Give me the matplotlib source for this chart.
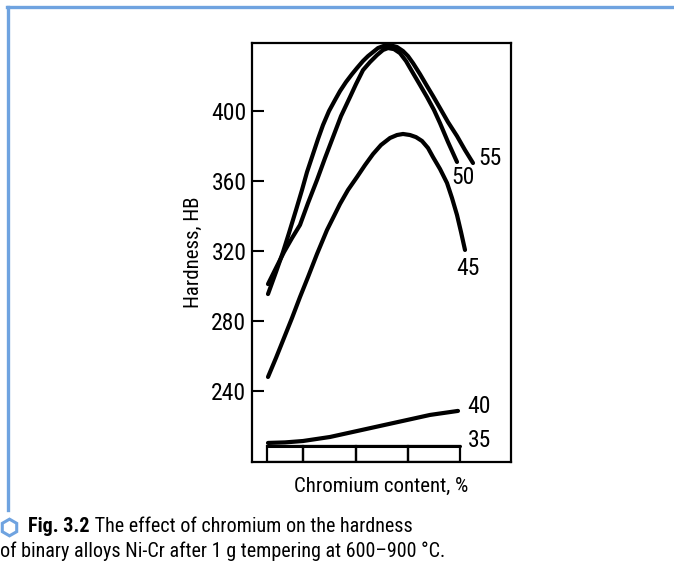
import matplotlib
matplotlib.use("Agg")
import matplotlib.pyplot as plt
from matplotlib import font_manager

installed = {f.name for f in font_manager.fontManager.ttflist}
face = next((n for n in ["Liberation Sans Narrow", "Roboto Condensed", "Open Sans Condensed", "Roboto"]
             if n in installed), "DejaVu Sans")
plt.rcParams["font.family"] = [face, "DejaVu Sans"]

# Hardness (HB) vs chromium content for Ni-Cr alloys, one curve per group label
x55 = [1.6, 2.4, 3.1, 3.7, 4.4, 5.0, 5.5, 6.1, 6.6, 7.1, 7.7, 8.3, 8.8, 9.4, 10.0, 10.5, 11.1,
       11.6, 12.1, 12.6, 13.1, 13.8, 14.5, 15.1, 15.6, 16.1, 16.8, 17.5, 18.1, 18.8, 19.6, 20.5,
       21.3, 22.1]
hb55 = [295.4, 308.0, 319.4, 330.3, 343.4, 354.9, 365.1, 375.4, 384.0, 392.0, 400.0, 406.3, 411.4,
        416.6, 421.1, 424.6, 428.6, 431.4, 433.7, 436.0, 437.1, 437.7, 436.6, 434.3, 431.4, 427.4,
        421.1, 414.3, 408.6, 401.7, 393.7, 385.7, 377.7, 370.3]

x50 = [1.6, 2.4, 3.2, 4.0, 4.8, 5.6, 6.5, 7.3, 8.1, 8.9, 9.8, 10.4, 11.1, 11.8, 12.5, 13.1, 13.6,
       14.2, 14.8, 15.4, 16.1, 16.8, 17.5, 18.2, 18.8, 19.6, 20.5]
hb50 = [301.1, 310.3, 319.4, 327.4, 334.9, 347.4, 360.6, 373.1, 385.1, 397.1, 408.0, 415.4, 423.4,
        428.0, 432.0, 434.9, 436.0, 435.4, 433.1, 428.6, 421.7, 414.9, 408.0, 400.6, 393.1, 382.3,
        370.9]

x45 = [1.6, 2.4, 3.2, 4.0, 4.8, 5.6, 6.5, 7.5, 8.2, 8.8, 9.6, 10.5, 11.3, 12.1, 12.9, 13.8, 14.5,
       15.1, 15.8, 16.4, 17.0, 17.6, 18.1, 18.8, 19.5, 20.0, 20.5, 20.9, 21.3]
hb45 = [248.0, 258.9, 270.3, 281.7, 293.7, 305.1, 318.3, 332.0, 340.0, 346.9, 354.9, 362.3, 369.1,
        375.4, 380.6, 384.6, 386.3, 386.9, 386.3, 385.1, 382.9, 378.9, 373.7, 366.9, 358.9, 350.3,
        340.6, 330.9, 320.6]

x40 = [1.6, 3.3, 5.1, 7.8, 10.5, 12.8, 15.5, 17.8, 20.6]
hb40 = [210.3, 210.6, 211.4, 213.7, 217.1, 220.0, 223.4, 226.3, 228.6]

x35 = [1.6, 10.4, 20.8]
hb35 = [208.6, 208.6, 208.6]

# composition ranges marked along the base of the plot
range_edges = [1.5, 5.1, 10.4, 15.6, 20.8]

yticks = [240, 280, 320, 360, 400]
curve_labels = ["55", "50", "45", "40", "35"]

fig = plt.figure(figsize=(6.74, 5.61), dpi=100)
ax = fig.add_axes([252 / 674, 99 / 561, 259 / 674, 419 / 561])

ylo, yhi = 199.4, 438.9
ax.set_xlim(0, 25.9)
ax.set_ylim(ylo, yhi)

series = [(x55, hb55), (x50, hb50), (x45, hb45), (x40, hb40), (x35, hb35)]
widths = [3.0, 3.0, 3.0, 3.0, 2.2]
for (xs, ys), w in zip(series, widths):
    ax.plot(xs, ys, color="black", lw=w, solid_capstyle="round", solid_joinstyle="round")

# range boxes below the lowest curve
lefts = range_edges[:-1]
wids = [b - a for a, b in zip(range_edges[:-1], range_edges[1:])]
ax.bar(lefts, [hb35[0] - ylo] * len(lefts), width=wids, bottom=ylo, align="edge",
       fill=False, edgecolor="black", linewidth=1.6)

# curve labels next to their end points
offsets = [(4.0, 3.6), (4.3, -11.5), (2.2, -13.0), (7.0, 2.9), (5.8, 3.6)]
aligns = ["left", "center", "center", "left", "left"]
for (xs, ys), lab, off, ha in zip(series, curve_labels, offsets, aligns):
    ax.annotate(lab, xy=(xs[-1], ys[-1]), xytext=off, textcoords="offset points",
                ha=ha, va="center", fontsize=17)

ax.set_yticks(yticks)
ax.set_xticks([])
ax.tick_params(axis="y", direction="in", length=8.5, width=1.5, pad=4, labelsize=17)
for sp in ax.spines.values():
    sp.set_linewidth(1.6)

ax.set_ylabel("Hardness, HB", fontsize=15, labelpad=6)
ax.set_xlabel("Chromium content, %", fontsize=15, labelpad=11)

# page frame lines
blue = "#6fa3e0"
fig.add_artist(plt.Line2D([8 / 674, 8 / 674], [1 - 7 / 561, 1 - 510 / 561], color=blue, lw=2.4))
fig.add_artist(plt.Line2D([7 / 674, 1.0], [1 - 7 / 561, 1 - 7 / 561], color=blue, lw=2.4))

# caption
fig.add_artist(plt.Line2D([9 / 674], [1 - 527 / 561], marker="h", markersize=12,
                          markerfacecolor="none", markeredgecolor=blue, markeredgewidth=2.2))
fig_lbl = fig.text(28 / 674, 1 - 526 / 561, "Fig. 3.2", fontsize=14.5, fontweight="bold",
                   va="center", ha="left")
ax.annotate(" The effect of chromium on the hardness", xy=(1, 0.5), xycoords=fig_lbl,
            va="center", ha="left", fontsize=14.5, annotation_clip=False)
fig.text(0 / 674, 1 - 551 / 561, "of binary alloys Ni-Cr after 1 g tempering at 600\u2013900 \u00b0C.",
         fontsize=14.5, va="center", ha="left")

fig.savefig("out.png", dpi=100)
